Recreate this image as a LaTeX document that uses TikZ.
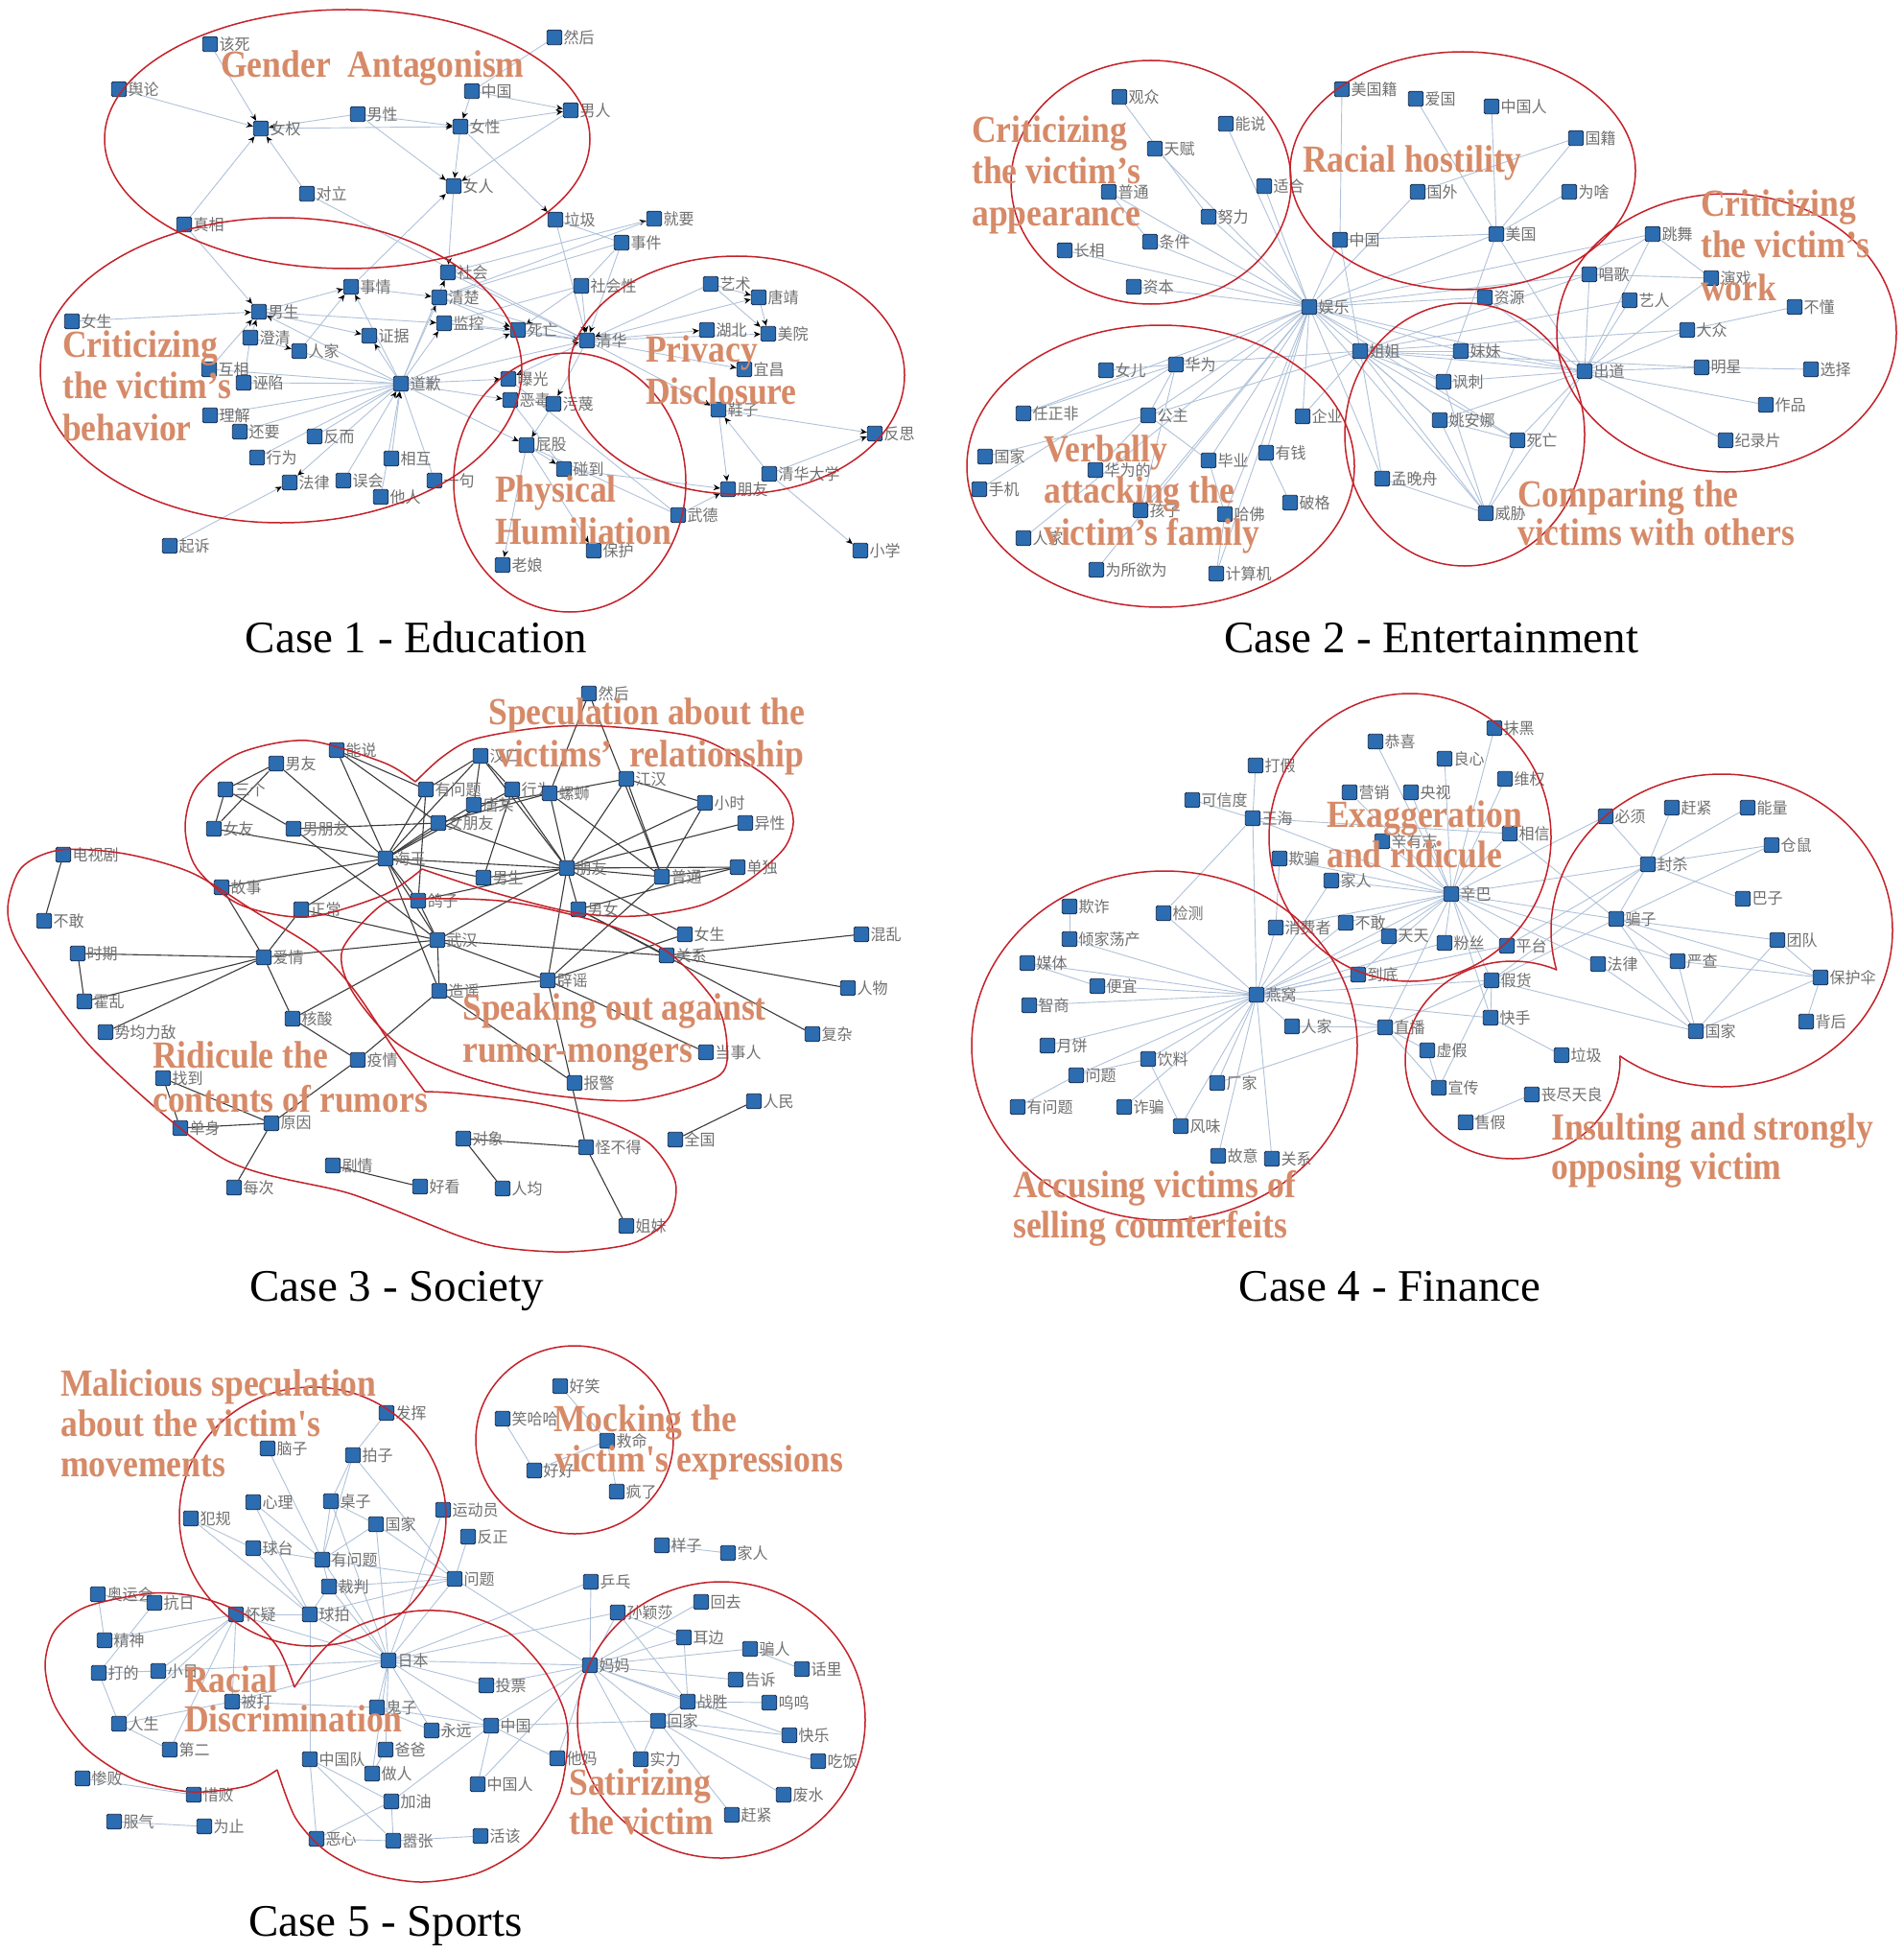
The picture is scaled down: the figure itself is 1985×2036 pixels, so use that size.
\documentclass[tikz,border=0pt]{standalone}
\usepackage{fontspec}
\setmainfont{Liberation Serif}
\newfontfamily\cjk[FakeStretch=0.97]{Noto Sans CJK SC}
\newfontfamily\ofont[FakeStretch=0.89]{Liberation Serif}
\usetikzlibrary{arrows.meta}
\pgfdeclarelayer{bg}
\pgfsetlayers{bg,main}
\definecolor{nfill}{RGB}{44,108,176}
\definecolor{ndraw}{RGB}{22,40,72}
\definecolor{eblue}{RGB}{176,194,218}
\definecolor{edark}{RGB}{60,60,60}
\definecolor{rred}{RGB}{196,34,42}
\definecolor{otxt}{RGB}{214,138,104}
\definecolor{lgray}{RGB}{112,112,112}
\tikzset{
  sq/.style={draw=ndraw,fill=nfill,minimum size=15.5pt,inner sep=0pt,rounded corners=1.5pt,line width=0.9pt},
  lbl/.style={text=lgray,font=\cjk\fontsize{16.5}{16.5}\selectfont,inner sep=1.2pt},
  ea/.style={draw=eblue,line width=0.9pt},
  ear/.style={ea,-{Stealth[length=7pt,width=6pt,black]}},
  ed/.style={draw=edark,line width=1.1pt},
  ring/.style={draw=rred,line width=1.5pt},
  olbl/.style={text=otxt,font=\ofont\bfseries\fontsize{40}{44}\selectfont,inner sep=0pt,anchor=base west},
  captxt/.style={font=\fontsize{47}{52}\selectfont,inner sep=0pt,anchor=base},
}
\newcommand\mknd[4]{\node[sq,label={[lbl]east:#2}] (#1#2) at (#3,#4) {};}
\begin{document}
\begin{tikzpicture}[x=1pt,y=-1pt]
\useasboundingbox (0,0) rectangle (1985,2036);
\begin{pgfonlayer}{bg}
\fill[white] (0,0) rectangle (1985,2036);
\end{pgfonlayer}

% ================= CASE 1 =================
\foreach \n/\x/\y in {该死/219/46,舆论/124/93,女权/272/134,男性/373/119,女性/480/132,中国/492/95,男人/595/115,然后/578/39,女人/473/194,对立/320/202,真相/192/234,社会/467/284,事情/366/299,清楚/458/310,男生/270/325,女生/75/335,监控/463/337,证据/385/350,澄清/261/352,人家/312/366,互相/218/385,诬陷/254/399,道歉/418/400,理解/219/433,还要/250/450,反而/328/455,行为/268/477,相互/408/478,法律/302/503,误会/358/501,一句/453/501,他人/397/518,起诉/177/569,垃圾/579/229,就要/682/228,事件/648/253,社会性/606/298,艺术/741/296,唐靖/791/310,死亡/540/344,清华/612/355,湖北/737/344,美院/801/348,宜昌/776/385,曝光/530/395,恶毒/532/417,污蔑/577/421,鞋子/749/427,反思/912/452,屁股/549/464,碰到/588/489,清华大学/802/494,朋友/759/510,武德/707/537,保护/619/574,老娘/524/589,小学/897/574}
  {\mknd{a}{\n}{\x}{\y}}

\begin{pgfonlayer}{bg}
\foreach \u/\v in {该死/女权,舆论/女权,男性/女权,对立/女权,真相/女权,女权/女性,男性/女性,中国/女性,女性/男人,中国/男人,男性/女人,女性/女人,男人/女人,事情/女人,女人/社会,女性/垃圾,真相/男生,女生/男生,互相/男生,澄清/男生,男生/监控,男生/证据,男生/事情,人家/事情,事情/清楚,澄清/人家,社会/就要,社会性/死亡,监控/死亡,清楚/死亡,垃圾/清华,事件/清华,社会性/清华,死亡/清华,艺术/清华,清华/唐靖,艺术/唐靖,艺术/美院,唐靖/美院,清华/湖北,清华/美院,清华/宜昌,清华/鞋子,清华/曝光,清华/污蔑,道歉/曝光,道歉/恶毒,道歉/死亡,道歉/男生,道歉/事情,道歉/证据,道歉/清楚,道歉/监控,道歉/社会,道歉/清华,相互/道歉,他人/道歉,误会/道歉,污蔑/屁股,道歉/屁股,屁股/老娘,屁股/碰到,屁股/保护,碰到/朋友,武德/朋友,鞋子/朋友,清华大学/鞋子,鞋子/反思,清华大学/反思,清华大学/小学,起诉/法律,道歉/法律}
  {\draw[ear] (a\u) -- (a\v);}
\foreach \u/\v in {然后/中国,对立/清华,垃圾/事件,清楚/事件,事件/社会性,社会性/监控,澄清/诬陷,道歉/诬陷,道歉/互相,道歉/理解,道歉/还要,道歉/反而,道歉/行为,道歉/人家,道歉/一句,屁股/武德,就要/清楚,社会/清华,清楚/清华,监控/清华,恶毒/碰到,曝光/武德}
  {\draw[ea] (a\u) -- (a\v);}
\end{pgfonlayer}

\draw[ring] (362,145) ellipse [x radius=253,y radius=135];
\draw[ring] (293,386) ellipse [x radius=251,y radius=159];
\draw[ring] (768,391) ellipse [x radius=175,y radius=124];
\draw[ring] (594,503) ellipse [x radius=121,y radius=135];

\node[olbl] (t1a) at (230,81) {Gender\ \ Antagonism};
\node[olbl] (t1b) at (65,372) {Criticizing};
\node[olbl] (t1c) at (65,415) {the victim’s};
\node[olbl] (t1d) at (65,459) {behavior};
\node[olbl] (t1e) at (673,377) {Privacy};
\node[olbl] (t1f) at (673,421) {Disclosure};
\node[olbl] (t1g) at (516,523) {Physical};
\node[olbl] (t1h) at (516,567) {Humiliation};
\node[captxt] (c1) at (434,680) {Case 1 - Education};

% ================= CASE 2 =================
\foreach \n/\x/\y in {观众/1167/101,能说/1278/129,天赋/1204/155,普通/1156/200,适合/1318/194,努力/1260/226,条件/1199/252,长相/1110/261,资本/1182/299,美国籍/1399/93,爱国/1476/103,中国人/1555/111,国籍/1643/144,中国/1397/250,国外/1478/200,为啥/1636/200,美国/1560/244,娱乐/1365/320,姐姐/1418/366,女儿/1153/386,华为/1226/380,任正非/1067/431,公主/1197/433,企业/1358/434,国家/1027/476,手机/1021/510,华为的/1142/490,毕业/1260/480,有钱/1320/472,孩子/1189/532,哈佛/1277/536,破格/1345/524,人家/1067/561,为所欲为/1143/594,计算机/1268/598,孟晚舟/1441/499,跳舞/1723/244,唱歌/1657/286,演戏/1784/290,资源/1548/310,艺人/1699/313,不懂/1871/320,大众/1759/344,妹妹/1523/366,出道/1652/387,明星/1774/383,选择/1888/385,讽刺/1505/398,作品/1841/422,姚安娜/1501/438,死亡/1582/459,纪录片/1799/459,威胁/1549/535}
  {\mknd{b}{\n}{\x}{\y}}

\begin{pgfonlayer}{bg}
\foreach \u/\v in {观众/努力,天赋/娱乐,能说/娱乐,适合/娱乐,普通/娱乐,努力/娱乐,条件/娱乐,长相/娱乐,资本/娱乐,普通/条件,美国籍/中国,爱国/美国,中国人/美国,国籍/美国,国籍/国外,为啥/美国,国外/娱乐,中国/娱乐,中国/美国,中国/姐姐,美国/娱乐,美国/出道,美国/讽刺,娱乐/华为,娱乐/公主,娱乐/企业,娱乐/有钱,娱乐/毕业,娱乐/哈佛,娱乐/孩子,娱乐/人家,娱乐/为所欲为,娱乐/计算机,娱乐/孟晚舟,娱乐/出道,娱乐/资源,娱乐/唱歌,娱乐/跳舞,娱乐/妹妹,娱乐/讽刺,娱乐/姚安娜,娱乐/死亡,娱乐/威胁,娱乐/任正非,姐姐/华为,姐姐/妹妹,姐姐/讽刺,姐姐/姚安娜,姐姐/出道,姐姐/孟晚舟,姐姐/死亡,姐姐/威胁,姐姐/唱歌,姐姐/艺人,姐姐/大众,姐姐/明星,姐姐/企业,姐姐/公主,女儿/华为,任正非/华为,公主/华为,国家/公主,手机/华为,华为的/公主,公主/毕业,毕业/哈佛,有钱/破格,孩子/华为,计算机/哈佛,出道/唱歌,出道/艺人,出道/演戏,出道/大众,出道/明星,出道/作品,出道/纪录片,出道/跳舞,出道/资源,出道/妹妹,出道/讽刺,出道/姚安娜,出道/死亡,出道/威胁,跳舞/唱歌,跳舞/演戏,演戏/唱歌,不懂/大众,明星/选择,威胁/姚安娜,威胁/讽刺,威胁/死亡,威胁/孟晚舟,姚安娜/死亡}
  {\draw[ea] (b\u) -- (b\v);}
\end{pgfonlayer}

\draw[ring] (1200,190) ellipse [x radius=146,y radius=127];
\draw[ring] (1525,178) ellipse [x radius=180,y radius=124];
\draw[ring] (1800,347) ellipse [x radius=177,y radius=145];
\draw[ring] (1527,453) ellipse [x radius=125,y radius=137];
\draw[ring] (1210,486) ellipse [x radius=202,y radius=147];

\node[olbl] (t2a) at (1013,149) {Criticizing};
\node[olbl] (t2b) at (1013,192) {the victim’s};
\node[olbl] (t2c) at (1013,236) {appearance};
\node[olbl] (t2d) at (1358,180) {Racial hostility};
\node[olbl] (t2e) at (1773,226) {Criticizing};
\node[olbl] (t2f) at (1773,269) {the victim’s};
\node[olbl] (t2g) at (1773,313) {work};
\node[olbl] (t2h) at (1582,528) {Comparing the};
\node[olbl] (t2i) at (1582,568) {victims with others};
\node[olbl] (t2j) at (1088,481) {Verbally};
\node[olbl] (t2k) at (1088,524) {attacking the};
\node[olbl] (t2l) at (1088,568) {victim’s family};
\node[captxt] (c2) at (1492,680) {Case 2 - Entertainment};

% ================= CASE 3 =================
\foreach \n/\x/\y in {能说/351/782,男友/288/796,三个/235/823,有问题/444/823,女友/223/864,男朋友/306/864,女朋友/457/858,电视剧/66/891,海王/402/895,故事/231/925,正常/314/948,鸽子/436/939,不敢/46/960,武汉/456/980,时期/81/994,爱情/275/998,造谣/458/1033,霍乱/88/1044,核酸/305/1062,势均力敌/110/1076,疫情/373/1105,找到/170/1124,单身/188/1176,原因/283/1171,剧情/347/1215,好看/438/1237,每次/244/1238,然后/614/723,汉口/501/788,行为/534/823,螺蛳/573/827,江汉/653/812,唐某/494/839,小时/735/837,异性/777/858,朋友/591/905,单独/769/904,男生/504/915,普通/690/914,男女/603/948,女生/714/974,混乱/898/974,关系/695/996,辟谣/571/1022,人物/884/1030,复杂/847/1078,当事人/736/1097,报警/599/1129,人民/786/1148,全国/704/1188,对象/483/1187,怪不得/611/1196,人均/524/1239,姐妹/653/1278}
  {\mknd{c}{\n}{\x}{\y}}

\begin{pgfonlayer}{bg}
\foreach \u/\v in {电视剧/不敢,时期/霍乱,时期/爱情,霍乱/爱情,势均力敌/爱情,男友/三个,男友/海王,三个/女友,三个/男朋友,女友/男友,女友/海王,男朋友/女朋友,男朋友/武汉,能说/海王,能说/有问题,能说/女朋友,海王/有问题,海王/女朋友,海王/故事,海王/正常,海王/鸽子,海王/武汉,海王/造谣,海王/朋友,海王/男生,海王/行为,海王/唐某,海王/汉口,故事/爱情,正常/爱情,正常/武汉,爱情/武汉,爱情/核酸,核酸/疫情,核酸/武汉,疫情/造谣,疫情/原因,找到/单身,找到/原因,单身/原因,原因/每次,剧情/好看,鸽子/武汉,鸽子/有问题,武汉/造谣,武汉/辟谣,武汉/关系,武汉/朋友,汉口/唐某,汉口/行为,汉口/朋友,汉口/有问题,行为/朋友,行为/男生,螺蛳/江汉,螺蛳/朋友,螺蛳/唐某,螺蛳/普通,螺蛳/女朋友,江汉/小时,江汉/朋友,江汉/普通,然后/螺蛳,然后/普通,小时/普通,小时/朋友,异性/朋友,单独/普通,单独/朋友,单独/男女,朋友/男生,朋友/男女,朋友/辟谣,朋友/女生,朋友/女朋友,朋友/普通,朋友/鸽子,普通/辟谣,男女/关系,男女/复杂,女生/辟谣,关系/混乱,关系/人物,辟谣/造谣,辟谣/当事人,辟谣/怪不得,造谣/报警,怪不得/姐妹,怪不得/对象,对象/人均,全国/人民}
  {\draw[ed] (c\u) -- (c\v);}
\end{pgfonlayer}

\draw[ring] plot[smooth] coordinates {(433,815) (400,795) (320,772) (250,785) (205,820) (193,862) (205,905) (250,943) (320,956) (400,933) (440,906)};
\draw[ring] plot[smooth] coordinates {(440,906) (513,930) (597,951) (663,955) (730,944) (780,918) (817,885) (827,858) (820,832) (793,805) (727,769) (627,757) (560,759) (493,771) (460,790) (433,815)};
\draw[ring] plot[smooth cycle] coordinates {(357,990) (397,944) (430,937) (530,940) (630,963) (697,993) (747,1047) (758,1093) (747,1123) (663,1147) (563,1140) (480,1120) (413,1087) (367,1033)};
\draw[ring] plot[smooth] coordinates {(443,1138) (480,1140) (560,1150) (627,1167) (677,1192) (704,1232) (697,1270) (660,1296) (593,1305) (527,1301) (480,1289) (367,1245) (233,1208) (100,1097) (25,995) (8,950) (22,905) (63,886) (130,890) (200,910) (267,951) (330,990) (370,1033) (413,1097) (443,1138)};

\node[olbl] (t3a) at (509,755) {Speculation about the};
\node[olbl] (t3b) at (518,799) {victims’\ \ relationship};
\node[olbl] (t3c) at (482,1063) {Speaking out against};
\node[olbl] (t3d) at (482,1107) {rumor-mongers};
\node[olbl] (t3e) at (159,1113) {Ridicule the};
\node[olbl] (t3f) at (159,1159) {contents of rumors};
\node[captxt] (c3) at (414,1356) {Case 3 - Society};

% ================= CASE 4 =================
\foreach \n/\x/\y in {恭喜/1434/773,打假/1309/798,营销/1407/826,央视/1471/826,可信度/1243/834,王海/1306/853,辛有志/1441/877,欺骗/1334/895,家人/1388/918,欺诈/1115/945,检测/1213/952,消费者/1330/967,不敢/1403/962,天天/1448/976,倾家荡产/1115/979,媒体/1071/1004,到底/1416/1016,便宜/1144/1028,燕窝/1310/1037,智商/1073/1048,人家/1347/1070,直播/1444/1071,月饼/1092/1090,饮料/1197/1104,问题/1122/1121,厂家/1269/1129,有问题/1061/1154,诈骗/1172/1154,风味/1231/1174,故意/1270/1205,关系/1326/1208,抹黑/1558/759,良心/1506/791,维权/1569/812,必须/1674/851,赶紧/1743/842,能量/1822/842,相信/1574/869,仓鼠/1847/881,封杀/1718/901,辛巴/1513/932,巴子/1817/937,骗子/1685/958,团队/1853/980,粉丝/1506/983,平台/1571/986,法律/1666/1005,严查/1749/1002,保护伞/1898/1019,假货/1555/1022,快手/1554/1061,国家/1768/1075,背后/1883/1065,虚假/1488/1095,垃圾/1628/1100,宣传/1500/1134,丧尽天良/1597/1141,售假/1528/1170}
  {\mknd{d}{\n}{\x}{\y}}

\begin{pgfonlayer}{bg}
\foreach \u/\v in {恭喜/辛巴,营销/辛巴,央视/辛巴,良心/辛巴,抹黑/辛巴,维权/辛巴,相信/辛巴,辛有志/辛巴,家人/辛巴,不敢/辛巴,天天/辛巴,到底/辛巴,粉丝/辛巴,平台/辛巴,假货/辛巴,快手/辛巴,直播/辛巴,封杀/辛巴,骗子/辛巴,法律/辛巴,严查/辛巴,欺骗/辛巴,王海/辛巴,燕窝/辛巴,消费者/辛巴,必须/辛巴,打假/王海,可信度/王海,王海/燕窝,王海/检测,王海/相信,欺骗/消费者,家人/燕窝,燕窝/检测,燕窝/倾家荡产,燕窝/媒体,燕窝/便宜,燕窝/智商,燕窝/月饼,燕窝/饮料,燕窝/问题,燕窝/诈骗,燕窝/厂家,燕窝/风味,燕窝/故意,燕窝/关系,燕窝/人家,燕窝/直播,燕窝/消费者,燕窝/不敢,燕窝/天天,燕窝/到底,燕窝/粉丝,燕窝/平台,燕窝/假货,燕窝/快手,欺诈/倾家荡产,媒体/便宜,问题/有问题,问题/饮料,饮料/风味,厂家/直播,人家/直播,直播/虚假,直播/宣传,直播/假货,封杀/必须,封杀/赶紧,封杀/能量,封杀/仓鼠,封杀/巴子,封杀/骗子,封杀/假货,封杀/平台,仓鼠/骗子,骗子/团队,骗子/保护伞,骗子/严查,骗子/国家,骗子/假货,团队/国家,团队/保护伞,严查/国家,严查/保护伞,保护伞/背后,保护伞/国家,法律/国家,假货/国家,假货/快手,快手/垃圾,虚假/宣传,宣传/假货,丧尽天良/售假,相信/骗子}
  {\draw[ea] (d\u) -- (d\v);}
\end{pgfonlayer}

\draw[ring] (1470,873) ellipse [x radius=147,y radius=150];
\draw[ring] (1214,1090) ellipse [x radius=201,y radius=182];
\begin{scope}[even odd rule]
  \clip (0,0) rectangle (1985,2036) (1795,970) ellipse [x radius=178,y radius=163];
  \draw[ring] (1577,1105) ellipse [x radius=112,y radius=103];
\end{scope}
\begin{scope}[even odd rule]
  \clip (0,0) rectangle (1985,2036) (1577,1105) ellipse [x radius=112,y radius=103];
  \draw[ring] (1795,970) ellipse [x radius=178,y radius=163];
\end{scope}

\node[olbl] (t4a) at (1383,862) {Exaggeration};
\node[olbl] (t4b) at (1383,904) {and ridicule};
\node[olbl] (t4c) at (1617,1188) {Insulting and strongly};
\node[olbl] (t4d) at (1617,1229) {opposing victim};
\node[olbl] (t4e) at (1056,1248) {Accusing victims of};
\node[olbl] (t4f) at (1056,1290) {selling counterfeits};
\node[captxt] (c4) at (1449,1356) {Case 4 - Finance};

% ================= CASE 5 =================
\foreach \n/\x/\y in {发挥/403/1473,脑子/279/1510,拍子/368/1517,心理/264/1566,桌子/345/1565,运动员/462/1574,犯规/199/1583,国家/392/1589,反正/488/1602,球台/264/1614,有问题/336/1626,问题/474/1646,裁判/343/1654,奥运会/102/1662,抗日/161/1671,怀疑/246/1683,球拍/323/1683,精神/109/1710,日本/405/1731,打的/103/1744,小日/165/1742,被打/242/1774,鬼子/393/1780,人生/124/1797,永远/450/1804,第二/177/1824,爸爸/402/1824,中国队/323/1834,做人/388/1849,惨败/86/1854,惜败/202/1871,加油/408/1878,服气/119/1899,为止/213/1904,恶心/330/1917,嚣张/410/1919,好笑/584/1445,笑哈哈/524/1479,救命/633/1502,好好/557/1533,疯了/643/1555,样子/690/1611,家人/759/1619,乒乓/616/1649,孙颖莎/644/1681,回去/731/1670,耳边/713/1707,骗人/782/1719,妈妈/615/1736,话里/836/1740,告诉/767/1751,投票/507/1757,战胜/717/1774,呜呜/802/1775,回家/686/1794,中国/512/1799,快乐/823/1809,他妈/581/1833,实力/668/1834,吃饭/853/1836,中国人/498/1860,废水/817/1871,赶紧/763/1892,活该/501/1914}
  {\mknd{e}{\n}{\x}{\y}}

\begin{pgfonlayer}{bg}
\foreach \u/\v in {发挥/拍子,脑子/有问题,拍子/桌子,拍子/有问题,拍子/问题,心理/球拍,心理/有问题,桌子/有问题,桌子/国家,桌子/日本,国家/有问题,国家/问题,国家/日本,犯规/球台,犯规/球拍,球台/有问题,球台/球拍,有问题/裁判,有问题/问题,有问题/日本,运动员/日本,反正/问题,裁判/球拍,裁判/问题,裁判/日本,问题/日本,问题/球拍,问题/妈妈,奥运会/抗日,奥运会/精神,抗日/打的,怀疑/球拍,怀疑/精神,怀疑/人生,怀疑/被打,怀疑/第二,怀疑/日本,怀疑/小日,球拍/中国队,球拍/日本,打的/小日,打的/人生,小日/日本,人生/第二,人生/被打,被打/鬼子,被打/日本,日本/鬼子,日本/爸爸,日本/永远,日本/中国,日本/投票,日本/妈妈,日本/孙颖莎,日本/乒乓,日本/做人,鬼子/永远,鬼子/中国,中国队/恶心,中国队/嚣张,中国队/加油,做人/爸爸,加油/嚣张,加油/中国,恶心/加油,恶心/嚣张,嚣张/活该,惨败/惜败,服气/为止,好笑/救命,笑哈哈/好好,救命/好好,救命/疯了,样子/家人,乒乓/妈妈,孙颖莎/妈妈,孙颖莎/耳边,孙颖莎/战胜,回去/妈妈,耳边/战胜,耳边/妈妈,骗人/话里,骗人/妈妈,妈妈/告诉,妈妈/战胜,妈妈/回家,妈妈/实力,妈妈/快乐,妈妈/中国,妈妈/投票,妈妈/他妈,妈妈/中国人,战胜/呜呜,战胜/回家,回家/实力,回家/赶紧,回家/废水,回家/快乐,回家/吃饭,回家/中国,中国/他妈,中国/中国人,中国/永远}
  {\draw[ea] (e\u) -- (e\v);}
\end{pgfonlayer}

\draw[ring] (326,1581) ellipse [x radius=139,y radius=135];
\draw[ring] (599,1501) ellipse [x radius=103,y radius=98];
\draw[ring] (752,1793) ellipse [x radius=150,y radius=144];
\draw[ring] plot[smooth] coordinates {(307,1759) (323,1736) (345,1712) (373,1695) (407,1684) (440,1679) (480,1682) (530,1702) (565,1738) (587,1780) (592,1815) (583,1870) (552,1920) (500,1952) (440,1962) (385,1953) (340,1930) (308,1895) (289,1845)};
\draw[ring] plot[smooth] coordinates {(289,1845) (257,1862) (200,1868) (140,1855) (90,1823) (57,1778) (47,1736) (57,1700) (90,1675) (157,1661) (207,1665) (257,1684) (290,1718) (307,1759)};

\node[olbl] (t5a) at (63,1455) {Malicious speculation};
\node[olbl] (t5b) at (63,1497) {about the victim's};
\node[olbl] (t5c) at (63,1539) {movements};
\node[olbl] (t5d) at (577,1492) {Mocking the};
\node[olbl] (t5e) at (578,1534) {victim's expressions};
\node[olbl] (t5f) at (192,1764) {Racial};
\node[olbl] (t5g) at (192,1805) {Discrimination};
\node[olbl] (t5h) at (593,1871) {Satirizing};
\node[olbl] (t5i) at (593,1912) {the victim};
\node[captxt] (c5) at (402,2018) {Case 5 - Sports};
\end{tikzpicture}
\end{document}
